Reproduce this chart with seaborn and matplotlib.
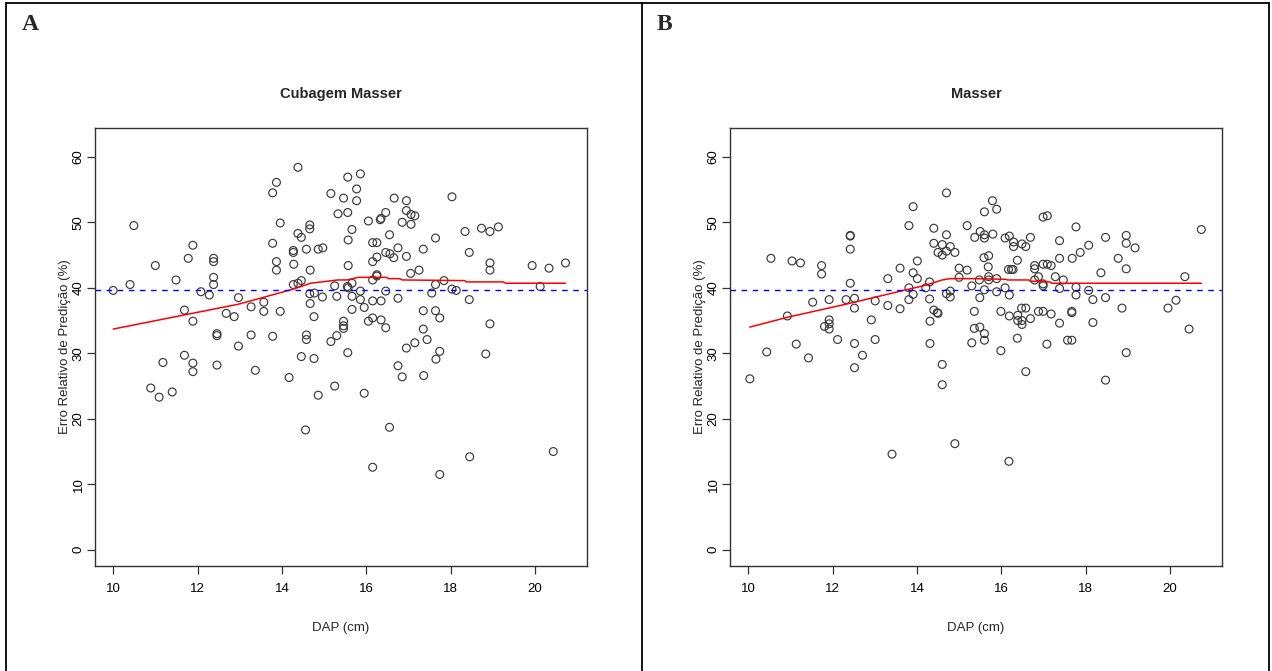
import numpy as np
import pandas as pd
import matplotlib
matplotlib.use('Agg')
import matplotlib.pyplot as plt
import seaborn as sns

sns.set_style('white')
plt.rcParams['font.family'] = ['Liberation Sans', 'DejaVu Sans']

# %% Data
# Panel A - Cubagem Masser
dap_a = [
    14.38, 13.87, 13.78, 15.16, 15.33, 10.49, 13.96, 14.66, 14.66, 14.38,
    14.46, 13.78, 11.89, 14.27, 14.27, 14.58, 14.86, 14.97, 11.78, 12.38,
    12.38, 11.00, 13.87, 13.87, 14.28, 14.67, 12.38, 11.49, 12.38, 10.40,
    10.00, 12.08, 12.28, 12.97, 14.27, 14.38, 14.46, 14.66, 14.77, 14.96,
    15.25, 15.30, 13.57, 13.27, 13.96, 13.57, 14.67, 14.76, 11.69, 12.68,
    12.87, 11.89, 12.46, 12.46, 13.27, 13.78, 14.58, 14.58, 15.16, 15.30,
    15.86, 15.56, 15.77, 15.46, 15.77, 16.66, 16.95, 18.03, 15.56, 16.46,
    16.35, 16.33, 16.95, 17.06, 17.15, 16.85, 17.06, 16.05, 15.66, 15.57,
    16.55, 16.15, 16.25, 17.64, 18.34, 18.73, 18.93, 19.13, 16.75, 16.46,
    16.56, 16.65, 16.95, 16.25, 16.15, 17.35, 18.44, 15.57, 18.93, 18.93,
    19.93, 20.33, 20.72, 17.25, 17.05, 16.25, 16.25, 16.15, 15.66, 15.55,
    15.57, 17.84, 17.64, 18.03, 18.13, 17.55, 16.46, 15.86, 20.12, 15.66,
    15.86, 16.15, 16.35, 16.75, 18.44, 15.66, 15.95, 17.35, 17.64, 17.74,
    16.15, 16.05, 16.35, 16.46, 15.46, 15.46, 15.46, 17.35, 18.93, 17.15,
    17.44, 12.97, 11.18, 11.69, 11.89, 11.89, 12.46, 13.37, 14.17, 14.46,
    14.76, 15.25, 14.86, 10.89, 11.09, 11.40, 14.56, 15.56, 16.95, 17.74,
    17.65, 18.83, 16.75, 16.85, 17.36, 15.95, 16.55, 16.15, 18.45, 17.74,
    20.43,
]
erro_a = [
    58.4, 56.1, 54.5, 54.4, 51.3, 49.5, 49.9, 49.6, 49.0, 48.3,
    47.7, 46.8, 46.5, 45.7, 45.4, 45.9, 45.9, 46.1, 44.5, 44.5,
    44.0, 43.4, 44.0, 42.7, 43.6, 42.7, 41.6, 41.2, 40.5, 40.5,
    39.6, 39.4, 38.9, 38.5, 40.5, 40.7, 41.1, 39.1, 39.2, 38.6,
    40.3, 38.7, 37.8, 37.1, 36.4, 36.4, 37.6, 35.6, 36.6, 36.1,
    35.6, 34.9, 33.0, 32.7, 32.8, 32.6, 32.8, 32.1, 31.8, 32.7,
    57.4, 56.9, 55.1, 53.7, 53.3, 53.7, 53.3, 53.9, 51.5, 51.5,
    50.6, 50.4, 51.8, 51.2, 51.0, 50.0, 49.7, 50.2, 48.9, 47.3,
    48.1, 46.9, 46.9, 47.6, 48.6, 49.1, 48.6, 49.3, 46.1, 45.4,
    45.2, 44.6, 44.8, 44.7, 44.0, 45.9, 45.4, 43.4, 43.8, 42.7,
    43.4, 43.0, 43.8, 42.7, 42.2, 42.0, 41.8, 41.2, 40.7, 40.2,
    40.0, 41.1, 40.5, 39.8, 39.6, 39.2, 39.5, 39.5, 40.2, 38.7,
    38.2, 38.0, 38.0, 38.4, 38.2, 36.7, 37.0, 36.5, 36.5, 35.4,
    35.4, 34.9, 35.1, 33.9, 34.9, 34.2, 33.8, 33.7, 34.5, 31.6,
    32.1, 31.1, 28.6, 29.7, 28.5, 27.2, 28.2, 27.4, 26.3, 29.5,
    29.2, 25.0, 23.6, 24.7, 23.3, 24.1, 18.3, 30.1, 30.8, 30.3,
    29.1, 29.9, 28.1, 26.4, 26.6, 23.9, 18.7, 12.6, 14.2, 11.5,
    15.0,
]
lowess_a_x = [10.00, 11.25, 12.97, 14.27, 14.68, 15.07, 15.33, 15.54, 15.81, 16.48,
              16.52, 16.79, 16.85, 18.33, 18.37, 19.25, 19.30, 20.72]
lowess_a_y = [33.7, 35.3, 37.5, 39.8, 40.7, 41.0, 41.2, 41.2, 41.6, 41.6,
              41.4, 41.4, 41.2, 41.1, 40.9, 40.9, 40.7, 40.7]
mean_a = 39.6

# Panel B - Masser
dap_b = [
    14.70, 13.91, 13.81, 14.40, 15.19, 15.37, 14.70, 12.42, 12.42, 12.42,
    14.40, 14.60, 14.79, 14.50, 14.60, 14.70, 14.90, 10.54, 11.04, 11.24,
    11.74, 11.74, 14.01, 13.60, 13.91, 14.01, 13.31, 15.00, 15.19, 15.00,
    12.42, 14.30, 14.21, 13.81, 13.91, 13.81, 14.30, 14.70, 14.79, 14.79,
    15.30, 11.53, 11.92, 12.32, 12.52, 12.52, 13.01, 13.31, 13.60, 14.40,
    14.50, 14.48, 15.36, 10.93, 11.92, 11.92, 11.81, 11.92, 12.92, 14.31,
    15.36, 12.12, 13.01, 11.14, 12.52, 14.31, 15.30,
    15.79, 15.89, 15.60, 16.99, 17.09, 17.77, 20.74, 15.50, 15.60, 15.60,
    15.80, 16.09, 16.19, 16.29, 16.29, 16.49, 16.58, 16.69, 17.38, 18.07,
    17.87, 17.68, 18.47, 18.96, 18.96, 19.17, 18.77, 18.96, 18.36, 20.35,
    15.59, 15.70, 15.69, 16.38, 16.17, 16.24, 16.28, 16.79, 16.79, 16.99,
    17.09, 17.18, 17.38, 16.88, 16.79, 16.99, 16.99, 17.28, 17.47, 17.38,
    17.77, 18.07, 17.77, 18.17, 18.47, 15.48, 15.70, 15.70, 15.89, 16.09,
    15.60, 15.89, 16.19, 15.49, 15.99, 16.48, 16.58, 16.88, 16.99, 17.18,
    17.67, 17.67, 16.19, 16.39, 16.39, 16.49, 16.49, 16.69, 17.38, 18.17,
    18.86, 19.95, 20.14, 20.45, 15.49, 15.60, 15.60, 16.38, 17.57, 17.67,
    17.08,
    10.44, 11.43, 10.04, 12.71, 12.52, 14.60, 14.60, 14.90, 13.41,
    15.99, 16.58, 18.96, 18.47, 16.18,
]
erro_b = [
    54.5, 52.4, 49.5, 49.1, 49.5, 47.7, 48.1, 48.0, 47.9, 45.9,
    46.8, 46.6, 46.3, 45.4, 45.0, 45.6, 45.4, 44.5, 44.1, 43.8,
    43.4, 42.1, 44.1, 43.0, 42.3, 41.4, 41.4, 43.0, 42.7, 41.6,
    40.7, 40.9, 40.0, 40.0, 39.0, 38.2, 38.3, 39.1, 39.5, 38.6,
    40.3, 37.8, 38.2, 38.2, 38.4, 36.9, 38.0, 37.3, 36.8, 36.6,
    36.1, 36.2, 36.4, 35.7, 35.1, 34.5, 34.1, 33.7, 35.1, 34.9,
    33.8, 32.1, 32.1, 31.4, 31.5, 31.5, 31.6,
    53.3, 52.0, 51.6, 50.8, 51.0, 49.3, 48.9, 48.6, 48.1, 47.6,
    48.2, 47.6, 47.9, 47.0, 46.3, 46.7, 46.3, 47.7, 47.2, 46.5,
    45.4, 44.5, 47.7, 48.0, 46.8, 46.1, 44.5, 42.9, 42.3, 41.7,
    44.6, 44.9, 43.2, 44.2, 42.8, 42.8, 42.8, 43.4, 42.9, 43.6,
    43.6, 43.4, 44.5, 41.7, 41.2, 40.6, 40.3, 41.7, 41.2, 39.9,
    40.1, 39.6, 38.9, 38.2, 38.5, 41.2, 41.2, 41.7, 41.4, 40.0,
    39.7, 39.4, 38.9, 38.5, 36.4, 36.9, 36.9, 36.4, 36.4, 36.0,
    36.4, 36.2, 35.7, 35.8, 35.0, 35.0, 34.4, 35.3, 34.6, 34.7,
    36.9, 36.9, 38.1, 33.7, 34.0, 33.0, 32.0, 32.3, 32.0, 32.0,
    31.4,
    30.2, 29.3, 26.1, 29.7, 27.8, 28.3, 25.2, 16.2, 14.6,
    30.4, 27.2, 30.1, 25.9, 13.5,
]
lowess_b_x = [10.04, 10.93, 12.32, 13.81, 14.21, 14.60, 14.79, 15.39, 16.10, 16.15,
              16.65, 16.69, 17.05, 17.10, 17.15, 17.20, 20.74]
lowess_b_y = [34.0, 35.5, 37.5, 39.8, 40.4, 41.2, 41.4, 41.4, 41.3, 41.2,
              41.2, 41.0, 41.0, 40.9, 40.9, 40.7, 40.7]
mean_b = 39.7

panels = [
    ('A', 'Cubagem Masser', dap_a, erro_a, lowess_a_x, lowess_a_y, mean_a),
    ('B', 'Masser', dap_b, erro_b, lowess_b_x, lowess_b_y, mean_b),
]

# %% Figure
W, H = 1272, 671
fig = plt.figure(figsize=(W / 100, H / 100), dpi=100)
fig.patch.set_facecolor('white')

# outer table-like frame
frame_kw = dict(color='black', lw=1.3, transform=fig.transFigure)
fig.add_artist(plt.Line2D([6 / W, 6 / W], [0, 1 - 3 / H], **frame_kw))
fig.add_artist(plt.Line2D([642 / W, 642 / W], [0, 1 - 3 / H], **frame_kw))
fig.add_artist(plt.Line2D([1269 / W, 1269 / W], [0, 1 - 3 / H], **frame_kw))
fig.add_artist(plt.Line2D([6 / W, 1269 / W], [1 - 3 / H, 1 - 3 / H], **frame_kw))

for i, (letter, title, x, y, lx, ly, m) in enumerate(panels):
    off = 635 * i
    left, right, top, bottom = 95 + off, 587 + off, 127.5, 566
    ax = fig.add_axes([left / W, 1 - bottom / H, (right - left) / W, (bottom - top) / H])
    df = pd.DataFrame({'DAP': x, 'Erro': y})
    sns.scatterplot(data=df, x='DAP', y='Erro', ax=ax, marker='o', s=32,
                    fc='none', ec='#3a3a3a', linewidth=0.85, legend=False)
    sns.lineplot(x=lx, y=ly, ax=ax, color='red', lw=1.1, sort=False,
                 estimator=None)
    ax.axhline(m, color='blue', lw=1.0, linestyle=(0, (4, 4)))

    ax.set_xlim(9.57, 21.23)
    ax.set_ylim(-2.48, 64.48)
    ax.set_xticks(range(10, 21, 2))
    ax.set_yticks(range(0, 61, 10))
    ax.tick_params(bottom=True, left=True, direction='out', length=6, width=0.9,
                   colors='#333333', labelcolor='black', labelsize=9.5)
    ax.tick_params(axis='x', pad=6.5)
    ax.tick_params(axis='y', pad=1.5)
    for lab in ax.get_yticklabels():
        lab.set_rotation(90)
        lab.set_va('center')
    for sp in ax.spines.values():
        sp.set_color('#333333')
        sp.set_linewidth(1.0)
    ax.set_xlabel('DAP (cm)', fontsize=9.5, labelpad=19)
    ax.set_ylabel('Erro Relativo de Predição (%)', fontsize=9.5, labelpad=1)
    ax.set_title(title, fontsize=10.5, fontweight='bold', pad=21)

    fig.text((22 + off) / W, 1 - 25 / H, letter, fontsize=17, fontweight='bold',
             family=['Liberation Serif', 'DejaVu Serif'], va='center', ha='left')

fig.savefig('out.png', dpi=100, facecolor='white')
